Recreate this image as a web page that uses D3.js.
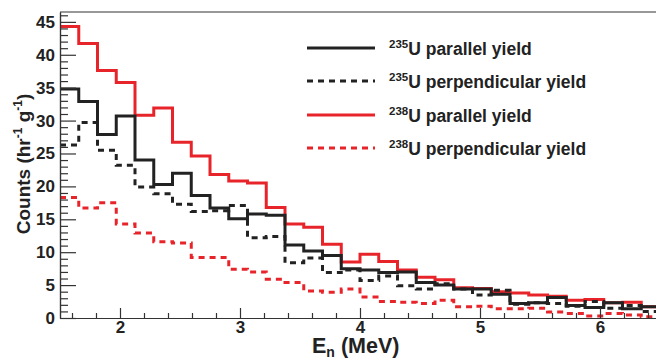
<!DOCTYPE html>
<html>
<head>
<meta charset="utf-8">
<script src="https://cdn.jsdelivr.net/npm/d3@7"></script>
<style>
  body { margin: 0; background: #fff; }
  svg { display: block; }
  text { font-family: "Liberation Sans", Helvetica, Arial, sans-serif; font-weight: bold; fill: #222; }
</style>
</head>
<body>
<svg id="viz" width="656" height="360"></svg>
<script>
// bin edges: 32 bins between 1.5 and 6.5 MeV
var binLow = 1.5, binHigh = 6.5, binCount = 32;

// counts per bin (hr^-1 g^-1)
var u235Parallel = [34.8, 32.9, 27.9, 30.7, 24.0, 20.3, 22.0, 18.6, 16.7, 15.1, 15.8, 15.6, 11.1, 10.2, 9.5, 7.5,
                    7.3, 6.9, 7.0, 5.4, 5.0, 4.4, 4.4, 3.6, 2.2, 2.3, 3.1, 1.9, 1.6, 2.3, 1.4, 1.7];
var u235Perpendicular = [26.3, 29.7, 25.5, 23.2, 19.9, 18.9, 17.3, 16.2, 16.3, 17.1, 12.2, 12.4, 8.4, 9.1, 6.9, 7.3,
                         5.7, 6.4, 4.9, 4.4, 5.2, 4.4, 3.5, 4.2, 2.1, 2.3, 2.2, 1.8, 2.5, 1.5, 1.9, 1.0];
var u238Parallel = [44.3, 41.7, 37.6, 35.8, 30.8, 31.9, 26.7, 24.6, 21.8, 20.8, 20.5, 16.8, 14.3, 13.8, 11.2, 8.5,
                    9.7, 8.6, 7.3, 6.2, 5.8, 4.6, 4.5, 4.0, 3.8, 3.5, 3.3, 2.7, 2.8, 2.3, 2.4, 1.7];
var u238Perpendicular = [18.3, 16.7, 17.5, 14.3, 12.9, 11.6, 11.4, 9.2, 9.2, 7.4, 7.0, 5.9, 5.4, 4.1, 3.9, 4.4,
                         3.2, 2.5, 2.4, 2.2, 2.7, 1.7, 1.8, 1.4, 1.4, 1.5, 0.9, 0.7, 0.3, 0.7, 0.45, 0.2];

var yMajorTicks = [0, 5, 10, 15, 20, 25, 30, 35, 40, 45];
var xMajorTicks = [2, 3, 4, 5, 6];

(function () {
  var RED = "#e8242b", BLACK = "#222";

  var series = [
    { iso: "238", label: "U parallel yield", values: u238Parallel, color: RED, dash: null },
    { iso: "235", label: "U parallel yield", values: u235Parallel, color: BLACK, dash: null },
    { iso: "235", label: "U perpendicular yield", values: u235Perpendicular, color: BLACK, dash: "6,5" },
    { iso: "238", label: "U perpendicular yield", values: u238Perpendicular, color: RED, dash: "6,5" }
  ];
  var legendOrder = [1, 2, 0, 3];

  var svg = d3.select("#viz");
  var padLeft = 60, padRight = 660, padTop = 12, padBottom = 318;

  var x = d3.scaleLinear().domain([binLow, binHigh]).range([padLeft, padRight]);
  var y = d3.scaleLinear().domain([0, 46.5]).range([padBottom, padTop]);
  var binWidth = (binHigh - binLow) / binCount;

  var step = d3.line()
    .x(function (d) { return x(d[0]); })
    .y(function (d) { return y(d[1]); })
    .curve(d3.curveStepAfter);

  function toSteps(values) {
    var pts = values.map(function (v, i) { return [binLow + i * binWidth, v]; });
    pts.push([binHigh, values[values.length - 1]]);
    return pts;
  }

  // histograms
  series.forEach(function (s) {
    svg.append("path")
      .attr("d", step(toSteps(s.values)))
      .attr("fill", "none")
      .attr("stroke", s.color)
      .attr("stroke-width", 3)
      .attr("stroke-dasharray", s.dash);
  });

  // axes (ticks point inward)
  var axisColor = "#333";
  var yMinor = d3.range(0, 47, 1).filter(function (v) { return v % 5 !== 0; });
  var xMinor = d3.range(1.6, 6.5, 0.2).filter(function (v) { return Math.abs(v - Math.round(v)) > 0.01; });

  svg.append("g").attr("transform", "translate(" + padLeft + ",0)")
    .call(d3.axisLeft(y).tickValues(yMinor).tickSize(-8).tickSizeOuter(0).tickFormat(""));
  svg.append("g").attr("class", "major").attr("transform", "translate(" + padLeft + ",0)")
    .call(d3.axisLeft(y).tickValues(yMajorTicks).tickSize(-16).tickSizeOuter(0).tickPadding(5).tickFormat(d3.format("d")));

  svg.append("g").attr("transform", "translate(0," + padBottom + ")")
    .call(d3.axisBottom(x).tickValues(xMinor).tickSize(-5).tickSizeOuter(0).tickFormat(""));
  svg.append("g").attr("class", "major").attr("transform", "translate(0," + padBottom + ")")
    .call(d3.axisBottom(x).tickValues(xMajorTicks).tickSize(-10).tickSizeOuter(0).tickPadding(3).tickFormat(d3.format("d")));

  svg.selectAll(".domain, .tick line").attr("stroke", axisColor).attr("stroke-width", 1.2);
  svg.selectAll(".major").attr("font-size", 17).attr("font-family", null);
  svg.selectAll(".tick text").attr("fill", "#222");

  // top frame line
  svg.append("line").attr("x1", padLeft).attr("x2", padRight).attr("y1", padTop).attr("y2", padTop)
    .attr("stroke", axisColor).attr("stroke-width", 1.2);

  // axis titles
  var xt = svg.append("text").attr("x", 312).attr("y", 353).style("font-size", "21.5px");
  xt.append("tspan").text("E");
  xt.append("tspan").attr("dy", 4).style("font-size", "14px").text("n");
  xt.append("tspan").attr("dy", -4).text(" (MeV)");

  var yt = svg.append("text")
    .attr("transform", "translate(30,164) rotate(-90)")
    .attr("text-anchor", "middle")
    .style("font-size", "19px");
  yt.append("tspan").text("Counts (hr");
  yt.append("tspan").attr("dy", -8).style("font-size", "12px").text("-1");
  yt.append("tspan").attr("dy", 8).text(" g");
  yt.append("tspan").attr("dy", -8).style("font-size", "12px").text("-1");
  yt.append("tspan").attr("dy", 8).text(")");

  // legend
  var legendY = [48, 81, 115, 148];
  legendOrder.forEach(function (idx, row) {
    var s = series[idx];
    var cy = legendY[row];
    svg.append("line").attr("x1", 307).attr("x2", 375).attr("y1", cy).attr("y2", cy)
      .attr("stroke", s.color).attr("stroke-width", 3).attr("stroke-dasharray", s.dash);
    var t = svg.append("text").attr("x", 389).attr("y", cy + 6.5).style("font-size", "17.5px");
    t.append("tspan").attr("dy", -7).style("font-size", "11.5px").text(s.iso);
    t.append("tspan").attr("dy", 7).text(s.label);
  });
})();
</script>
</body>
</html>
